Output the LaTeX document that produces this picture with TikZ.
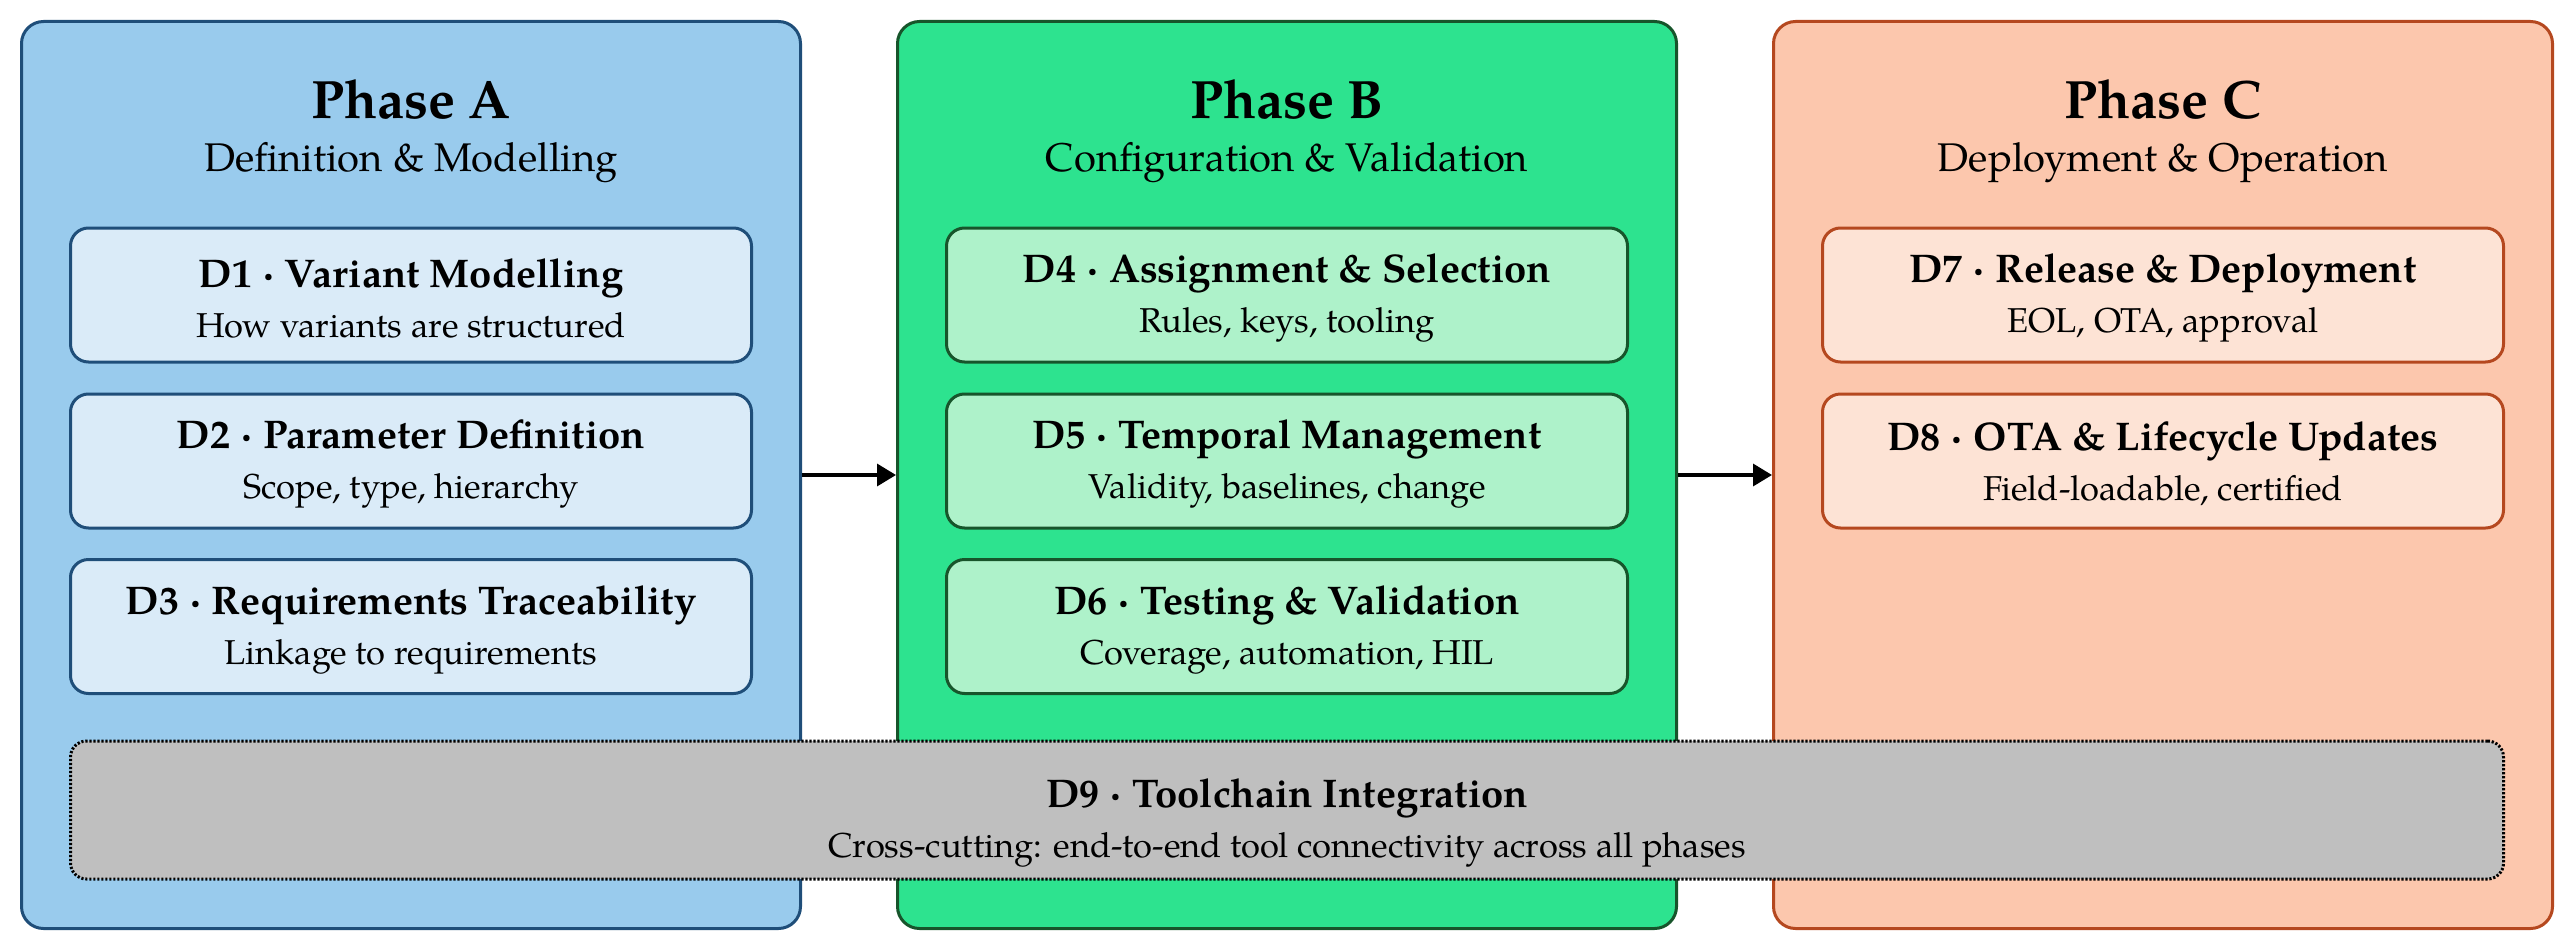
\documentclass[tikz,border=0pt]{standalone}
\usepackage{fontspec}
\setmainfont{TeX Gyre Pagella}
\usetikzlibrary{arrows.meta}
\definecolor{phAfill}{HTML}{99CBED}
\definecolor{phAdraw}{HTML}{1F4E79}
\definecolor{inAfill}{HTML}{DAEBF8}
\definecolor{phBfill}{HTML}{2DE38F}
\definecolor{phBdraw}{HTML}{17552B}
\definecolor{inBfill}{HTML}{AEF2CA}
\definecolor{phCfill}{HTML}{FCC7AD}
\definecolor{phCdraw}{HTML}{B5481F}
\definecolor{inCfill}{HTML}{FDE3D5}
\definecolor{dninefill}{HTML}{BFBFBF}
\newcommand{\dt}[1]{{\fontsize{40}{50}\selectfont\bfseries #1}}
\begin{document}
\begin{tikzpicture}[x=1pt,y=1pt,
  phase/.style={draw, line width=3pt, rounded corners=22pt, minimum width=779pt, minimum height=907pt, inner sep=0pt},
  dbox/.style={draw, line width=3pt, rounded corners=18pt, minimum width=681pt, minimum height=134pt, inner sep=0pt},
  dtext/.style={align=center, inner sep=0pt, font=\fontsize{34.5}{50}\selectfont},
  ptitle/.style={anchor=base, font=\fontsize{54}{60}\selectfont\bfseries},
  psub/.style={anchor=base, font=\fontsize{40}{48}\selectfont},
  flow/.style={line width=3.5pt, -{Triangle[length=19pt,width=22pt]}},
]
\useasboundingbox (0,0) rectangle (2572,-950);
% phases
\node[phase, fill=phAfill, draw=phAdraw] (pA) at (411,-475) {};
\node[phase, fill=phBfill, draw=phBdraw] (pB) at (1287,-475) {};
\node[phase, fill=phCfill, draw=phCdraw] (pC) at (2163,-475) {};
\node[ptitle] (tA) at (411,-118) {Phase A};
\node[psub] (sA) at (411,-171) {Definition \& Modelling};
\node[ptitle] (tB) at (1287,-118) {Phase B};
\node[psub] (sB) at (1287,-171) {Configuration \& Validation};
\node[ptitle] (tC) at (2163,-118) {Phase C};
\node[psub] (sC) at (2163,-171) {Deployment \& Operation};
% phase A
\node[dbox, fill=inAfill, draw=phAdraw] (d1) at (411,-295) {};
\node[dbox, fill=inAfill, draw=phAdraw] (d2) at (411,-461) {};
\node[dbox, fill=inAfill, draw=phAdraw] (d3) at (411,-626.5) {};
\node[dtext] (d1t) at ([yshift=-3pt]d1.center) {\dt{D1 · Variant Modelling}\\How variants are structured};
\node[dtext] (d2t) at ([yshift=-3pt]d2.center) {\dt{D2 · Parameter Definition}\\Scope, type, hierarchy};
\node[dtext] (d3t) at ([yshift=-3pt]d3.center) {\dt{D3 · Requirements Traceability}\\Linkage to requirements};
% phase B
\node[dbox, fill=inBfill, draw=phBdraw] (d4) at (1287,-295) {};
\node[dbox, fill=inBfill, draw=phBdraw] (d5) at (1287,-461) {};
\node[dbox, fill=inBfill, draw=phBdraw] (d6) at (1287,-626.5) {};
\node[dtext] (d4t) at ([yshift=-3pt]d4.center) {\dt{D4 · Assignment \& Selection}\\Rules, keys, tooling};
\node[dtext] (d5t) at ([yshift=-3pt]d5.center) {\dt{D5 · Temporal Management}\\Validity, baselines, change};
\node[dtext] (d6t) at ([yshift=-3pt]d6.center) {\dt{D6 · Testing \& Validation}\\Coverage, automation, HIL};
% phase C
\node[dbox, fill=inCfill, draw=phCdraw] (d7) at (2163,-295) {};
\node[dbox, fill=inCfill, draw=phCdraw] (d8) at (2163,-461) {};
\node[dtext] (d7t) at ([yshift=-3pt]d7.center) {\dt{D7 · Release \& Deployment}\\EOL, OTA, approval};
\node[dtext] (d8t) at ([yshift=-3pt]d8.center) {\dt{D8 · OTA \& Lifecycle Updates}\\Field-loadable, certified};
% D9
\node[draw=black, line width=3pt, dash pattern=on 2.2pt off 1.8pt, rounded corners=16pt, fill=dninefill, minimum width=2433pt, minimum height=138pt, inner sep=0pt] (d9) at (1287,-810) {};
\node[dtext] (d9t) at ([yshift=-13pt]d9.center) {\dt{D9 · Toolchain Integration}\\Cross-cutting: end-to-end tool connectivity across all phases};
% arrows
\draw[flow] (pA.east) -- (pB.west);
\draw[flow] (pB.east) -- (pC.west);
\end{tikzpicture}
\end{document}
